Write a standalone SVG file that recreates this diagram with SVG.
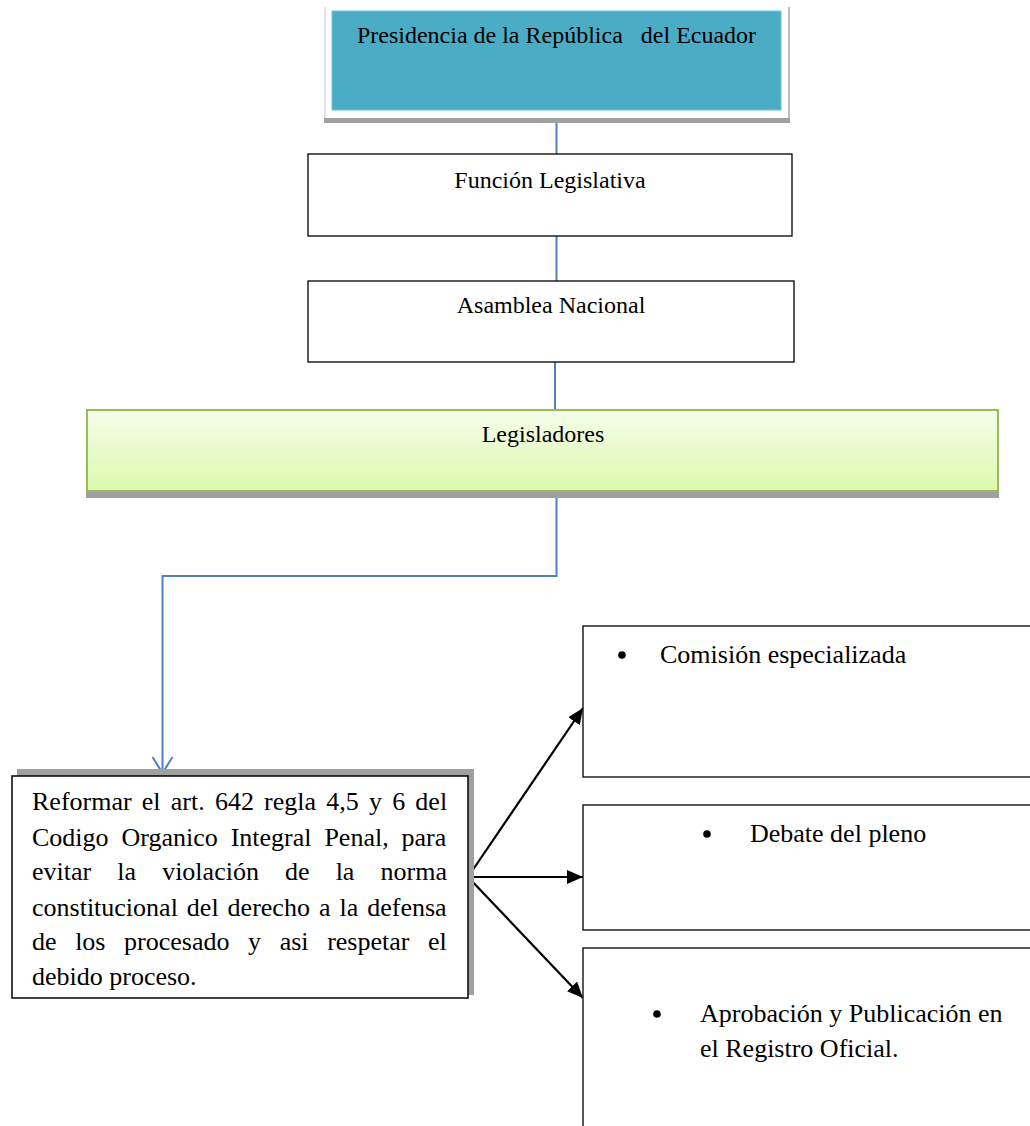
<svg xmlns="http://www.w3.org/2000/svg" width="1030" height="1126" viewBox="0 0 1030 1126">
<style>
  .t { font-family: "Liberation Serif", "Times New Roman", serif; fill: #000; }
  .c24 { font-size: 24px; text-anchor: middle; }
  .r26 { font-size: 26px; }
  .box { fill: #fff; stroke: #000; stroke-width: 1.3; }
  .blue { fill: none; stroke: #4F81BD; stroke-width: 2; }
  .blk { fill: none; stroke: #000; stroke-width: 2.2; }
</style>
<defs>
  <linearGradient id="green" x1="0" y1="0" x2="0" y2="1">
    <stop offset="0" stop-color="#F5FDEB"/>
    <stop offset="1" stop-color="#DCF9AC"/>
  </linearGradient>
  <marker id="ah" markerWidth="16" markerHeight="14" refX="16" refY="7" orient="auto" markerUnits="userSpaceOnUse" viewBox="0 0 16 14">
    <path d="M0,0 L16,7 L0,14 Z" fill="#000"/>
  </marker>
</defs>
<rect width="1030" height="1126" fill="#fff"/>

<g id="connectors">
  <line class="blue" x1="556.5" y1="118" x2="556.5" y2="154"/>
  <line class="blue" x1="556.5" y1="236" x2="556.5" y2="281"/>
  <line class="blue" x1="555" y1="362" x2="555" y2="410"/>
  <polyline class="blue" points="556.5,491 556.5,576 162.5,576 162.5,772"/>
  <polyline class="blue" points="152.5,757 162.5,773 172.5,757"/>
  <line class="blk" x1="468" y1="877" x2="583" y2="708" marker-end="url(#ah)"/>
  <line class="blk" x1="468" y1="877" x2="583" y2="877" marker-end="url(#ah)"/>
  <line class="blk" x1="468" y1="877" x2="583" y2="998" marker-end="url(#ah)"/>
</g>

<g id="presidencia">
  <rect x="324" y="118" width="466" height="5" fill="#A0A0A0"/>
  <rect x="325" y="7" width="464" height="111" fill="#fff"/>
  <line x1="325" y1="7" x2="325" y2="118" stroke="#D0D0D0" stroke-width="1.2"/>
  <line x1="789" y1="7" x2="789" y2="118" stroke="#A8A8A8" stroke-width="1.5"/>
  <rect x="332" y="11" width="449" height="99" fill="#4BACC6" stroke="#6CC3D8" stroke-width="1"/>
  <text class="t c24" x="556.5" y="43" xml:space="preserve">Presidencia de la República   del Ecuador</text>
</g>

<g id="funcion">
  <rect class="box" x="308" y="154" width="484" height="82"/>
  <text class="t c24" x="550" y="188">Función Legislativa</text>
</g>

<g id="asamblea">
  <rect class="box" x="308" y="281" width="486" height="81"/>
  <text class="t c24" x="551" y="313">Asamblea Nacional</text>
</g>

<g id="legisladores">
  <rect x="86" y="491" width="913" height="7" fill="#A0A0A0"/>
  <rect x="87" y="410" width="911" height="81" fill="url(#green)" stroke="#9BBB59" stroke-width="2"/>
  <text class="t c24" x="543" y="442">Legisladores</text>
</g>

<g id="reformar">
  <rect x="17" y="769" width="457" height="226" fill="#A0A0A0"/>
  <rect x="12" y="776" width="456" height="222" fill="#fff" stroke="#000" stroke-width="1.5"/>
  <text class="t r26" x="32" y="810" word-spacing="3.7">Reformar el art. 642 regla 4,5 y 6 del</text>
  <text class="t r26" x="32" y="846" word-spacing="6.4">Codigo Organico Integral Penal, para</text>
  <text class="t r26" x="32" y="880" word-spacing="19.6">evitar la violación de la norma</text>
  <text class="t r26" x="32" y="916" word-spacing="2.5">constitucional del derecho a la defensa</text>
  <text class="t r26" x="32" y="950" word-spacing="12.1">de los procesado y asi respetar el</text>
  <text class="t r26" x="32" y="985">debido proceso.</text>
</g>

<g id="comision">
  <rect class="box" x="583" y="626" width="460" height="151"/>
  <circle cx="622" cy="655" r="3.8" fill="#000"/>
  <text class="t r26" x="660" y="663">Comisión especializada</text>
</g>

<g id="debate">
  <rect class="box" x="583" y="805" width="460" height="125"/>
  <circle cx="707" cy="834" r="3.8" fill="#000"/>
  <text class="t r26" x="750" y="842">Debate del pleno</text>
</g>

<g id="aprobacion">
  <rect class="box" x="583" y="948" width="460" height="190"/>
  <circle cx="657" cy="1014" r="3.8" fill="#000"/>
  <text class="t r26" x="700" y="1022">Aprobación y Publicación en</text>
  <text class="t r26" x="700" y="1057">el Registro Oficial.</text>
</g>
</svg>
